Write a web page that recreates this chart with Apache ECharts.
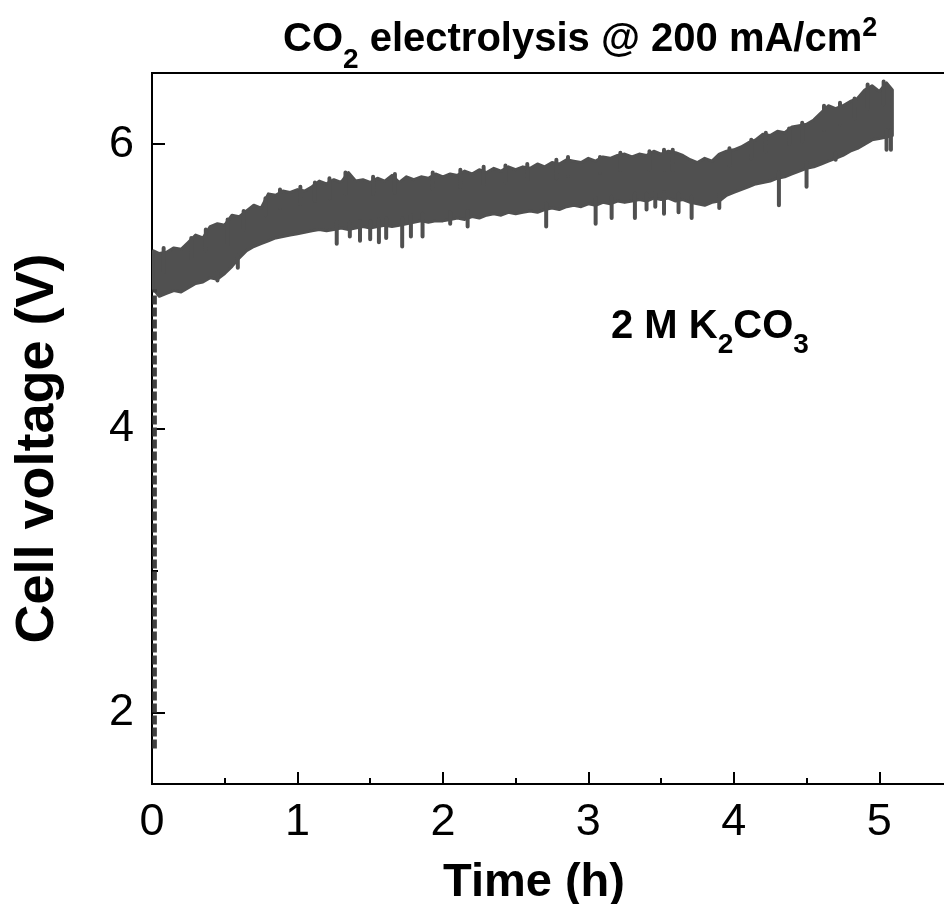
<!DOCTYPE html>
<html>
<head>
<meta charset="utf-8">
<script src="https://cdn.jsdelivr.net/npm/echarts@6/dist/echarts.min.js"></script>
<style>
  html, body { margin: 0; padding: 0; background: #fff; }
  #chart { width: 944px; height: 904px; }
</style>
</head>
<body>
<div id="chart"></div>
<script>
// 时间 (h)
const times = [
  0.01, 0.05, 0.10, 0.15, 0.20, 0.25, 0.30, 0.35, 0.40, 0.45,
  0.50, 0.55, 0.60, 0.65, 0.70, 0.75, 0.80, 0.85, 0.90, 0.95,
  1.00, 1.05, 1.10, 1.15, 1.20, 1.25, 1.30, 1.35, 1.40, 1.45,
  1.50, 1.55, 1.60, 1.65, 1.70, 1.75, 1.80, 1.85, 1.90, 1.95,
  2.00, 2.05, 2.10, 2.15, 2.20, 2.25, 2.30, 2.35, 2.40, 2.45,
  2.50, 2.55, 2.60, 2.65, 2.70, 2.75, 2.80, 2.85, 2.90, 2.95,
  3.00, 3.05, 3.10, 3.15, 3.20, 3.25, 3.30, 3.35, 3.40, 3.45,
  3.50, 3.55, 3.60, 3.65, 3.70, 3.75, 3.80, 3.85, 3.90, 3.95,
  4.00, 4.05, 4.10, 4.15, 4.20, 4.25, 4.30, 4.35, 4.40, 4.45,
  4.50, 4.55, 4.60, 4.65, 4.70, 4.75, 4.80, 4.85, 4.90, 4.95,
  5.00, 5.05, 5.09
];
// 电压波动上沿 (V)
const voltHigh = [
  5.25, 5.23, 5.24, 5.27, 5.26, 5.31, 5.36, 5.34, 5.42, 5.44,
  5.43, 5.50, 5.49, 5.53, 5.57, 5.55, 5.65, 5.64, 5.67, 5.66,
  5.68, 5.67, 5.70, 5.74, 5.72, 5.75, 5.73, 5.80, 5.74, 5.75,
  5.73, 5.76, 5.74, 5.78, 5.73, 5.77, 5.75, 5.77, 5.76, 5.79,
  5.77, 5.79, 5.78, 5.81, 5.79, 5.82, 5.80, 5.83, 5.81, 5.84,
  5.82, 5.84, 5.83, 5.86, 5.84, 5.87, 5.86, 5.89, 5.88, 5.87,
  5.90, 5.88, 5.91, 5.90, 5.92, 5.93, 5.91, 5.93, 5.92, 5.95,
  5.93, 5.95, 5.94, 5.92, 5.89, 5.87, 5.90, 5.88, 5.93, 5.95,
  5.96, 5.98, 6.01, 6.03, 6.07, 6.06, 6.09, 6.08, 6.12, 6.13,
  6.14, 6.17, 6.22, 6.27, 6.25, 6.27, 6.30, 6.32, 6.38, 6.41,
  6.37, 6.43, 6.38
];
// 电压波动下沿 (V)
const voltLow = [
  4.98, 4.93, 4.95, 4.97, 4.96, 4.99, 5.02, 5.03, 5.06, 5.05,
  5.09, 5.14, 5.20, 5.25, 5.28, 5.30, 5.32, 5.34, 5.35, 5.36,
  5.37, 5.38, 5.39, 5.40, 5.39, 5.40, 5.41, 5.40, 5.41, 5.42,
  5.41, 5.42, 5.43, 5.42, 5.43, 5.44, 5.45, 5.46, 5.45, 5.46,
  5.46, 5.47, 5.48, 5.47, 5.49, 5.48, 5.50, 5.51, 5.50, 5.52,
  5.51, 5.52, 5.53, 5.52, 5.54, 5.55, 5.54, 5.56, 5.57, 5.56,
  5.58, 5.57, 5.59, 5.58, 5.60, 5.59, 5.60, 5.61, 5.60, 5.62,
  5.61, 5.62, 5.60, 5.61, 5.59, 5.58, 5.57, 5.59, 5.60, 5.64,
  5.66, 5.68, 5.70, 5.72, 5.73, 5.74, 5.76, 5.77, 5.79, 5.81,
  5.83, 5.84, 5.86, 5.88, 5.90, 5.92, 5.95, 5.97, 6.00, 6.03,
  6.04, 6.05, 6.06
];
// 向下的尖峰：时间、根部、尖端
const spikeTimes = [0.45, 0.59, 1.27, 1.36, 1.43, 1.50, 1.56, 1.61, 1.72, 1.78,
  1.86, 2.05, 2.17, 2.71, 3.05, 3.16, 3.32, 3.40, 3.46, 3.52, 3.62, 3.71, 3.90,
  4.31, 4.50, 4.70, 5.05, 5.08];
const spikeBase = [5.10, 5.22, 5.45, 5.45, 5.46, 5.46, 5.47, 5.48, 5.48, 5.50,
  5.51, 5.52, 5.53, 5.58, 5.62, 5.63, 5.65, 5.65, 5.66, 5.66, 5.65, 5.63, 5.64,
  5.80, 5.87, 5.94, 6.10, 6.10];
const spikeTip = [5.04, 5.13, 5.30, 5.35, 5.32, 5.33, 5.31, 5.34, 5.28, 5.35,
  5.35, 5.44, 5.42, 5.42, 5.44, 5.48, 5.48, 5.54, 5.56, 5.51, 5.52, 5.48, 5.55,
  5.57, 5.70, 5.89, 5.96, 5.96];
// 向上的尖峰：时间、根部、尖端
const peakTimes = [0.08, 0.27, 0.37, 0.52, 0.63, 0.78, 0.88, 1.02, 1.12, 1.22,
  1.33, 1.52, 1.67, 1.93, 2.12, 2.28, 2.43, 2.58, 2.78, 2.86, 3.08, 3.22, 3.42,
  3.52, 3.58, 3.97, 4.12, 4.22, 4.38, 4.47, 4.62, 4.73, 4.83, 4.92, 5.03];
const peakBase = [5.10, 5.20, 5.25, 5.30, 5.40, 5.50, 5.55, 5.58, 5.60, 5.62,
  5.65, 5.65, 5.66, 5.68, 5.70, 5.72, 5.73, 5.74, 5.76, 5.78, 5.80, 5.82, 5.82,
  5.82, 5.82, 5.85, 5.90, 5.95, 6.00, 6.02, 6.10, 6.14, 6.18, 6.25, 6.28];
const peakTip = [5.27, 5.34, 5.40, 5.47, 5.53, 5.62, 5.68, 5.70, 5.73, 5.76,
  5.80, 5.77, 5.79, 5.80, 5.82, 5.84, 5.85, 5.86, 5.89, 5.91, 5.91, 5.94, 5.95,
  5.96, 5.96, 5.97, 6.03, 6.08, 6.11, 6.15, 6.27, 6.29, 6.32, 6.42, 6.44];
// 起始阶段的电压跃升
const riseTimes = [0.018, 0.018];
const riseVolt = [1.75, 4.98];

const xMajor = [0, 1, 2, 3, 4, 5];
const xMinor = [0.5, 1.5, 2.5, 3.5, 4.5];
const yMajor = [2, 4, 6];
const yMinor = [3, 5];

const FONT = 'Liberation Sans, Arial, sans-serif';
const LINE = '#505050';

const chart = echarts.init(document.getElementById('chart'));

const bandData = times.map((t, i) => [t, voltLow[i], voltHigh[i]]);
const spikeData = [];
spikeTimes.forEach((t, i) => {
  spikeData.push([t, spikeBase[i]], [t, spikeTip[i]], [t, '-']);
});
peakTimes.forEach((t, i) => {
  spikeData.push([t, peakBase[i]], [t, peakTip[i]], [t, '-']);
});
const riseData = riseTimes.map((t, i) => [t, riseVolt[i]]);

const xCommon = {
  type: 'value',
  min: 0,
  max: 5.5,
  interval: 0.5,
  splitLine: { show: false }
};
const yCommon = {
  type: 'value',
  min: 1.5,
  max: 6.5,
  interval: 0.5,
  splitLine: { show: false }
};

const txt = (size) => ({ fontSize: size, fontWeight: 'bold', fontFamily: FONT, color: '#000' });

chart.setOption({
  animation: false,
  backgroundColor: '#fff',
  title: [{
    left: 283,
    top: 12,
    padding: 0,
    text: '{b|CO}{sub|2}{b| electrolysis @ 200 mA/cm}{sup|2}',
    textStyle: {
      rich: {
        b: { ...txt(40), lineHeight: 44, verticalAlign: 'top', padding: [8, 0, 0, 0] },
        sub: { ...txt(28), verticalAlign: 'top', padding: [34, 0, 0, 0] },
        sup: { ...txt(27), verticalAlign: 'top', padding: [3, 0, 0, 0] }
      }
    }
  }, {
    left: 611,
    top: 307,
    padding: 0,
    text: '{b|2 M K}{sub|2}{b|CO}{sub|3}',
    textStyle: {
      rich: {
        b: { ...txt(40), lineHeight: 44, verticalAlign: 'top' },
        sub: { ...txt(28), verticalAlign: 'top', padding: [24, 0, 0, 0] }
      }
    }
  }],
  grid: {
    left: 152,
    right: -8,
    top: 73,
    bottom: 120,
    outerBoundsMode: 'none',
    containLabel: false,
    show: true,
    borderColor: '#000',
    borderWidth: 2,
    backgroundColor: 'transparent'
  },
  xAxis: [{
    ...xCommon,
    position: 'bottom',
    name: 'Time (h)',
    nameLocation: 'middle',
    nameGap: 76,
    nameMoveOverlap: false,
    nameTextStyle: { ...txt(47), padding: [0, 36, 0, 0] },
    axisLine: { show: true, lineStyle: { color: '#000', width: 2 } },
    axisTick: { show: true, inside: true, length: 12, customValues: xMajor, lineStyle: { color: '#000', width: 2 } },
    axisLabel: { show: true, customValues: xMajor, margin: 16, fontSize: 45, fontFamily: FONT, color: '#000' }
  }, {
    ...xCommon,
    position: 'bottom',
    axisLine: { show: false },
    axisTick: { show: true, inside: true, length: 6, customValues: xMinor, lineStyle: { color: '#000', width: 2 } },
    axisLabel: { show: false }
  }],
  yAxis: [{
    ...yCommon,
    position: 'left',
    name: 'Cell voltage (V)',
    nameLocation: 'middle',
    nameRotate: 90,
    nameGap: 87,
    nameMoveOverlap: false,
    nameTextStyle: { ...txt(54), padding: [0, 40, 0, 0] },
    axisLine: { show: true, lineStyle: { color: '#000', width: 2 } },
    axisTick: { show: true, inside: true, length: 13, customValues: yMajor, lineStyle: { color: '#000', width: 2 } },
    axisLabel: { show: true, customValues: yMajor, margin: 18, fontSize: 45, fontFamily: FONT, color: '#000' }
  }, {
    ...yCommon,
    position: 'left',
    axisLine: { show: false },
    axisTick: { show: true, inside: true, length: 6, customValues: yMinor, lineStyle: { color: '#000', width: 2 } },
    axisLabel: { show: false }
  }],
  series: [{
    name: 'rise',
    type: 'line',
    z: 5,
    data: riseData,
    symbol: 'none',
    lineStyle: { color: '#404040', width: 4.5, opacity: 1, type: [9, 3] }
  }, {
    // 电压波动带：上下沿之间填充
    name: 'band',
    type: 'custom',
    data: bandData,
    encode: { x: 0, y: [1, 2] },
    renderItem: (params, api) => {
      if (params.dataIndex !== 0) return null;
      const upper = times.map((t, i) => api.coord([t, voltHigh[i]]));
      const lower = times.map((t, i) => api.coord([t, voltLow[i]])).reverse();
      return {
        type: 'polygon',
        shape: { points: upper.concat(lower) },
        style: { fill: LINE, stroke: LINE, lineWidth: 3, lineJoin: 'round' }
      };
    }
  }, {
    name: 'spike',
    type: 'line',
    data: spikeData,
    symbol: 'none',
    connectNulls: false,
    lineStyle: { color: LINE, width: 4, cap: 'round' }
  }]
});
</script>
</body>
</html>
